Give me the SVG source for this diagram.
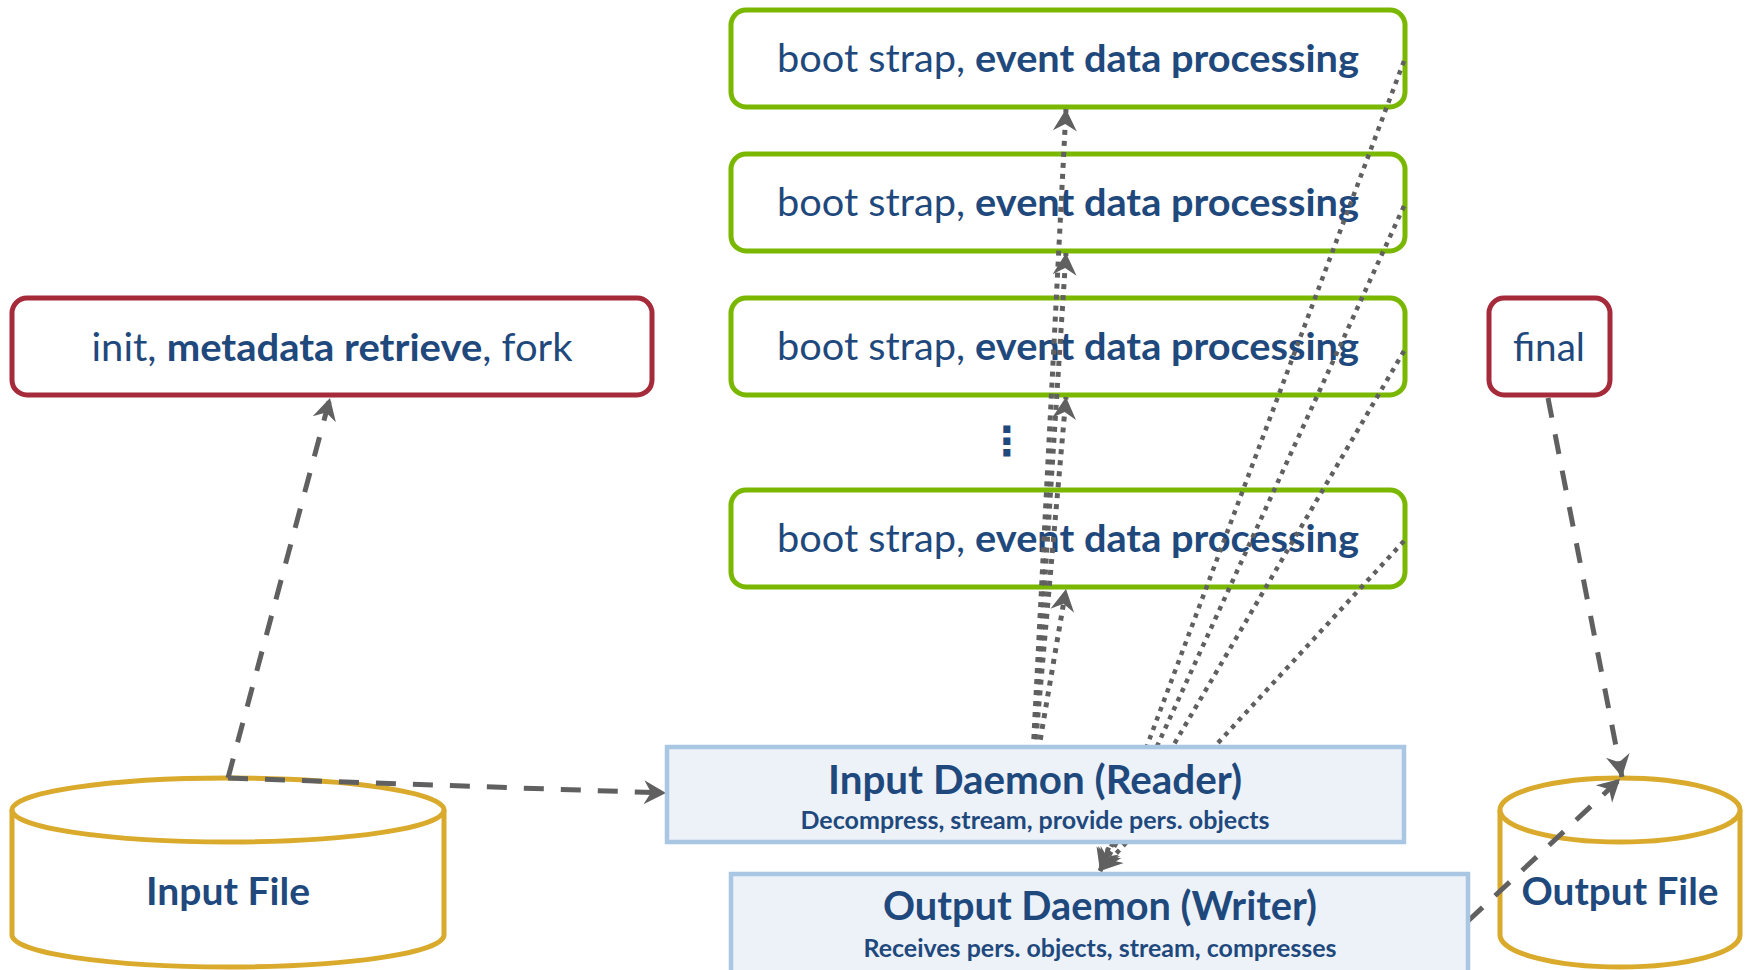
<svg xmlns="http://www.w3.org/2000/svg" width="1748" height="970" viewBox="0 0 1748 970">
<style>
.bg{fill:#ffffff}
.green{fill:#ffffff;stroke:#7AB800;stroke-width:5}
.red{fill:#ffffff;stroke:#A52A3A;stroke-width:5}
.daemon{fill:#EDF2F9;stroke:#A9C6E2;stroke-width:4.5}
.cyl{fill:#ffffff;stroke:#D9AA2B;stroke-width:5}
.t{font-family:Lato,"Open Sans","Liberation Sans",sans-serif;fill:#1F497D;text-anchor:middle}
.b{font-weight:bold}
.dash{fill:none;stroke:#606060;stroke-width:5;stroke-dasharray:20 17}
.dot{fill:none;stroke:#606060;stroke-width:4.5;stroke-dasharray:4.5 5.5}
.dotu{fill:none;stroke:#606060;stroke-width:5;stroke-dasharray:5 6}
</style>
<defs>
<marker id="arr" markerUnits="userSpaceOnUse" markerWidth="24" markerHeight="26" viewBox="0 0 24 26" refX="22" refY="13" orient="auto">
<path d="M22,13 L0,1 L7,13 L0,25 Z" fill="#606060"/>
</marker>
</defs>
<rect class="bg" x="0" y="0" width="1748" height="970"/>

<g id="proc1">
<rect class="green" x="731" y="10" width="674" height="97" rx="15"/>
<text class="t" x="1068" y="72" font-size="38" textLength="582" lengthAdjust="spacingAndGlyphs">boot strap, <tspan class="b">event data processing</tspan></text>
</g>
<g id="proc2">
<rect class="green" x="731" y="154" width="674" height="97" rx="15"/>
<text class="t" x="1068" y="216" font-size="38" textLength="582" lengthAdjust="spacingAndGlyphs">boot strap, <tspan class="b">event data processing</tspan></text>
</g>
<g id="proc3">
<rect class="green" x="731" y="298" width="674" height="97" rx="15"/>
<text class="t" x="1068" y="360" font-size="38" textLength="582" lengthAdjust="spacingAndGlyphs">boot strap, <tspan class="b">event data processing</tspan></text>
</g>
<g id="ellipsis">
<text class="t b" x="1007" y="455" font-size="40" style="font-family:'DejaVu Sans',sans-serif">⋮</text>
</g>
<g id="proc4">
<rect class="green" x="731" y="490" width="674" height="97" rx="15"/>
<text class="t" x="1068" y="552" font-size="38" textLength="582" lengthAdjust="spacingAndGlyphs">boot strap, <tspan class="b">event data processing</tspan></text>
</g>

<g id="init">
<rect class="red" x="12" y="298" width="640" height="97" rx="15"/>
<text class="t" x="332" y="361" font-size="38" textLength="481" lengthAdjust="spacingAndGlyphs">init, <tspan class="b">metadata retrieve</tspan>, fork</text>
</g>
<g id="final">
<rect class="red" x="1489" y="298" width="121" height="97" rx="15"/>
<text class="t" x="1549" y="361" font-size="38" textLength="72" lengthAdjust="spacingAndGlyphs">final</text>
</g>

<g id="inputfile">
<path class="cyl" d="M12,810 L12,935 A216,32 0 0 0 444,935 L444,810"/>
<ellipse class="cyl" cx="228" cy="810" rx="216" ry="32"/>
<text class="t b" x="228" y="905" font-size="38" textLength="164" lengthAdjust="spacingAndGlyphs">Input File</text>
</g>
<g id="outputfile">
<path class="cyl" d="M1500,810 L1500,935 A120,32 0 0 0 1740,935 L1740,810"/>
<ellipse class="cyl" cx="1620" cy="810" rx="120" ry="32"/>
<text class="t b" x="1620" y="905" font-size="38" textLength="197" lengthAdjust="spacingAndGlyphs">Output File</text>
</g>

<g id="connectors">
<path class="dash" d="M228,778 L330,398" marker-end="url(#arr)"/>
<path class="dash" d="M228,778 L666,793" marker-end="url(#arr)"/>
<path class="dash" d="M1548,398 L1622,777" marker-end="url(#arr)"/>
<path class="dash" d="M1468,921 L1620,779" marker-end="url(#arr)"/>
<path class="dotu" d="M1031,794 L1066,109" marker-end="url(#arr)"/>
<path class="dotu" d="M1031,794 L1066,253" marker-end="url(#arr)"/>
<path class="dotu" d="M1031,794 L1066,397" marker-end="url(#arr)"/>
<path class="dotu" d="M1031,794 L1066,589" marker-end="url(#arr)"/>
<path class="dot" d="M1404,61 L1100,871" marker-end="url(#arr)"/>
<path class="dot" d="M1404,206 L1100,871" marker-end="url(#arr)"/>
<path class="dot" d="M1404,351 L1100,871" marker-end="url(#arr)"/>
<path class="dot" d="M1404,541 L1100,871" marker-end="url(#arr)"/>
</g>

<g id="inputdaemon">
<rect class="daemon" x="667" y="747" width="737" height="95"/>
<text class="t b" x="1035" y="794" font-size="40" textLength="414" lengthAdjust="spacingAndGlyphs">Input Daemon (Reader)</text>
<text class="t b" x="1035" y="829" font-size="25" textLength="469" lengthAdjust="spacingAndGlyphs">Decompress, stream, provide pers. objects</text>
</g>
<g id="outputdaemon">
<rect class="daemon" x="731" y="874" width="737" height="110"/>
<text class="t b" x="1100" y="920" font-size="40" textLength="434" lengthAdjust="spacingAndGlyphs">Output Daemon (Writer)</text>
<text class="t b" x="1100" y="957" font-size="25" textLength="473" lengthAdjust="spacingAndGlyphs">Receives pers. objects, stream, compresses</text>
</g>
</svg>
